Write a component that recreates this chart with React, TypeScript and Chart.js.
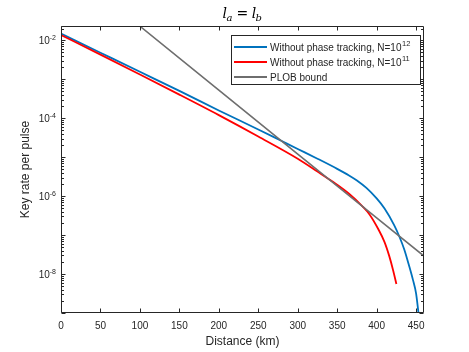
import { useEffect, useRef } from "react";
import { Chart, registerables } from "chart.js";

Chart.register(...registerables);

// Distance (km) and key rate per pulse
const blueX = [0, 50, 100, 150, 200, 250, 281, 300, 325, 350, 365, 375, 387, 400, 410, 422, 429, 435, 441, 446, 450, 453];
const blueY = [1.48e-2, 4.79e-3, 1.55e-3, 5.01e-4, 1.58e-4, 5.13e-5, 2.51e-5, 1.62e-5, 9.12e-6, 5.01e-6, 3.39e-6, 2.51e-6, 1.62e-6, 8.71e-7, 4.79e-7, 1.82e-7, 8.91e-8, 4.27e-8, 1.66e-8, 7.08e-9, 3.16e-9, 1.0e-9];

const redX = [0, 50, 100, 150, 200, 250, 300, 325, 345, 365, 382, 391, 402, 410, 416, 421, 425];
const redY = [1.36e-2, 4.27e-3, 1.32e-3, 4.03e-4, 1.2e-4, 3.39e-5, 9.12e-6, 4.27e-6, 2.29e-6, 1.15e-6, 5.46e-7, 3.39e-7, 1.43e-7, 6.61e-8, 2.88e-8, 1.22e-8, 5.56e-9];

const plobX = [100, 200, 300, 400, 460];
const plobY = [2.29e-2, 5.25e-4, 1.2e-5, 2.75e-7, 2.9e-8];

const xTicks = [0, 50, 100, 150, 200, 250, 300, 350, 400, 450];
const yTickExps = [-2, -4, -6, -8];
const yMajorExps = [-9, -8, -7, -6, -5, -4, -3, -2];

const legendBase = ["Without phase tracking, N=10", "Without phase tracking, N=10", "PLOB bound"];
const legendSup = ["12", "11", ""];
const seriesColors = ["#0072BD", "#FF0000", "#6E6E6E"];

const X_MIN = 0, X_MAX = 460, Y_MIN = 1e-9, Y_MAX = 0.0232;
const AX = "#262626";
const SANS = '"Liberation Sans", Arial, sans-serif';
const SERIF = '"DejaVu Serif", "Liberation Serif", serif';

function pts(xs: number[], ys: number[]) {
  return xs.map((x, i) => ({ x, y: ys[i] }));
}

export default function App() {
  const ref = useRef<HTMLCanvasElement>(null);

  useEffect(() => {
    const frame = {
      id: "matlabFrame",
      afterDatasetsDraw(chart: any) {
        const ctx: CanvasRenderingContext2D = chart.ctx;
        const { left, right, top, bottom } = chart.chartArea;
        const xs = chart.scales.x;
        const ys = chart.scales.y;
        ctx.save();
        ctx.strokeStyle = AX;
        ctx.lineWidth = 1;
        // box
        ctx.beginPath();
        ctx.rect(Math.round(left) + 0.5, Math.round(top) + 0.5, Math.round(right - left) - 1, Math.round(bottom - top) - 1);
        ctx.stroke();
        const L = Math.round(left) + 0.5, R = Math.round(right) - 0.5, T = Math.round(top) + 0.5, B = Math.round(bottom) - 0.5;
        // x ticks
        ctx.beginPath();
        for (const t of xTicks) {
          const px = Math.round(xs.getPixelForValue(t)) + 0.5;
          ctx.moveTo(px, B); ctx.lineTo(px, B - 4);
          ctx.moveTo(px, T); ctx.lineTo(px, T + 4);
        }
        // y ticks (major + minor)
        for (const e of yMajorExps) {
          for (let k = 1; k <= 9; k++) {
            const v = k * Math.pow(10, e);
            if (v < Y_MIN * 0.999 || v > Y_MAX) continue;
            const py = Math.round(ys.getPixelForValue(v)) + 0.5;
            const len = k === 1 ? 4 : 2.5;
            ctx.moveTo(L, py); ctx.lineTo(L + len, py);
            ctx.moveTo(R, py); ctx.lineTo(R - len, py);
          }
        }
        ctx.stroke();

        // x tick labels
        ctx.fillStyle = AX;
        ctx.font = `10px ${SANS}`;
        ctx.textAlign = "center";
        ctx.textBaseline = "middle";
        for (const t of xTicks) {
          ctx.fillText(String(t), xs.getPixelForValue(t), bottom + 13);
        }
        // y tick labels with superscripts
        ctx.textAlign = "left";
        ctx.textBaseline = "alphabetic";
        for (const e of yTickExps) {
          const py = ys.getPixelForValue(Math.pow(10, e));
          ctx.font = `10px ${SANS}`;
          const wb = ctx.measureText("10").width;
          ctx.font = `7px ${SANS}`;
          const sup = String(e);
          const wsup = ctx.measureText(sup).width;
          const xEnd = left - 5;
          ctx.font = `10px ${SANS}`;
          ctx.fillText("10", xEnd - wsup - wb, py + 4);
          ctx.font = `7px ${SANS}`;
          ctx.fillText(sup, xEnd - wsup, py - 0.5);
        }
        // axis titles
        ctx.font = `12px ${SANS}`;
        ctx.textAlign = "center";
        ctx.textBaseline = "middle";
        ctx.fillText("Distance (km)", (left + right) / 2, 341.5);
        ctx.save();
        ctx.translate(26, (top + bottom) / 2);
        ctx.rotate(-Math.PI / 2);
        ctx.fillText("Key rate per pulse", 0, 0);
        ctx.restore();

        // title  l_a = l_b
        ctx.fillStyle = "#000";
        ctx.textAlign = "left";
        ctx.textBaseline = "alphabetic";
        const big = `italic 14px ${SERIF}`;
        const small = `italic 10px ${SERIF}`;
        const eqF = `14px ${SERIF}`;
        ctx.font = big; const wl = ctx.measureText("l").width;
        ctx.font = small; const wa = ctx.measureText("a").width; const wbb = ctx.measureText("b").width;
        ctx.font = eqF; const weq = ctx.measureText("=").width;
        const gap = 3.5;
        const total = wl + wa + gap + weq + gap + wl + wbb;
        let cx = (left + right) / 2 - total / 2;
        const by = 18;
        ctx.font = big; ctx.fillText("l", cx, by); cx += wl;
        ctx.font = small; ctx.fillText("a", cx - 0.5, by + 2.5); cx += wa + gap;
        ctx.font = eqF; ctx.fillText("=", cx, by - 0.5); cx += weq + gap;
        ctx.font = big; ctx.fillText("l", cx, by); cx += wl;
        ctx.font = small; ctx.fillText("b", cx - 0.5, by + 2.5);

        // legend
        const lx = 231.5, ly = 35.5, lw = 189, lh = 49;
        ctx.fillStyle = "#fff";
        ctx.fillRect(lx, ly, lw, lh);
        ctx.strokeStyle = AX;
        ctx.lineWidth = 1;
        ctx.strokeRect(lx, ly, lw, lh);
        const rows = [47, 62, 77];
        for (let i = 0; i < 3; i++) {
          ctx.strokeStyle = seriesColors[i];
          ctx.lineWidth = 1.8;
          ctx.beginPath();
          ctx.moveTo(234, rows[i]); ctx.lineTo(267, rows[i]);
          ctx.stroke();
          ctx.fillStyle = AX;
          ctx.font = `10px ${SANS}`;
          ctx.fillText(legendBase[i], 270, rows[i] + 3.5);
          if (legendSup[i]) {
            const w = ctx.measureText(legendBase[i]).width;
            ctx.font = `7.5px ${SANS}`;
            ctx.fillText(legendSup[i], 270 + w + 0.5, rows[i] - 1.5);
          }
        }
        ctx.restore();
      },
    };

    const chart = new Chart(ref.current as HTMLCanvasElement, {
      type: "line",
      data: {
        datasets: [
          { label: "N=10^12", data: pts(blueX, blueY), borderColor: seriesColors[0], borderWidth: 1.8, pointRadius: 0, cubicInterpolationMode: "monotone", order: 3 },
          { label: "N=10^11", data: pts(redX, redY), borderColor: seriesColors[1], borderWidth: 1.8, pointRadius: 0, cubicInterpolationMode: "monotone", order: 2 },
          { label: "PLOB bound", data: pts(plobX, plobY), borderColor: seriesColors[2], borderWidth: 1.6, pointRadius: 0, tension: 0, order: 1 },
        ] as any,
      },
      options: {
        animation: false,
        responsive: false,
        devicePixelRatio: 1,
        layout: { padding: { left: 61, right: 45, top: 26, bottom: 39 } },
        scales: {
          x: { type: "linear", min: X_MIN, max: X_MAX, display: false },
          y: { type: "logarithmic", min: Y_MIN, max: Y_MAX, display: false },
        },
        plugins: { legend: { display: false }, tooltip: { enabled: false }, title: { display: false } },
        events: [],
      },
      plugins: [frame],
    });
    return () => chart.destroy();
  }, []);

  return (
    <div style={{ position: "absolute", left: 0, top: 0, width: 469, height: 352, background: "#fff" }}>
      <canvas ref={ref} width={469} height={352} style={{ width: 469, height: 352 }} />
    </div>
  );
}
